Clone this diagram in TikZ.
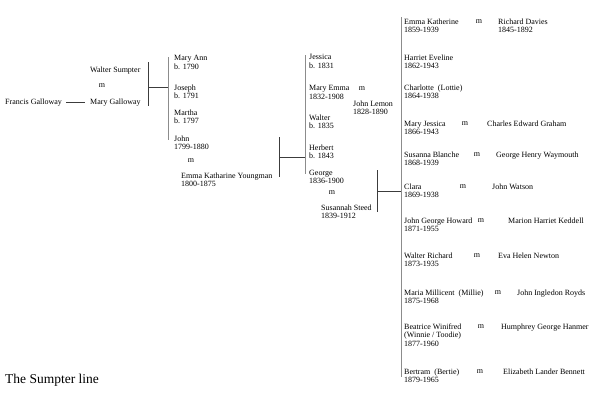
\documentclass[tikz,border=0pt]{standalone}
\usepackage{fontspec}
\setmainfont{Liberation Serif}
\usetikzlibrary{positioning}
\definecolor{bargrey}{RGB}{140,140,140}
\definecolor{linkdark}{RGB}{60,60,60}

\begin{document}
\begin{tikzpicture}[x=1pt, y=-1pt,
    person/.style={anchor=north west, inner sep=0pt, align=left, font=\fontsize{8}{8.6}\selectfont},
    wed/.style={inner sep=0pt, font=\fontsize{8}{8.6}\selectfont},
    kinbar/.style={draw=bargrey, line width=1pt},
    link/.style={draw=linkdark, line width=0.7pt}]
  \useasboundingbox (0,0) rectangle (600,418);
  % first generation
  \node[person] (francis) at (5,98.5) {Francis Galloway};
  \node[person] (walter) at (90,66.5) {Walter Sumpter};
  \node[wed] (m1) at (102,86) {m};
  \node[person] (marygal) at (90,98.5) {Mary Galloway};
  \draw[link] ([xshift=4pt]francis.east) -- ([xshift=-5pt]marygal.west);
  \coordinate (c1t) at (148,62);
  \coordinate (c1b) at (148,106);
  \coordinate (c1m) at (148,87);
  \coordinate (k1t) at (168,57);
  \coordinate (k1b) at (168,140);
  \coordinate (k1m) at (168,87);
  \draw[link] (c1t) -- (c1b);
  \draw[link] (c1m) -- (k1m);
  \draw[kinbar] (k1t) -- (k1b);
  % children of Walter and Mary
  \node[person] (maryann) at (174,55.5) {Mary Ann\\b. 1790};
  \node[person] (joseph) at (174,84.5) {Joseph\\b. 1791};
  \node[person] (martha) at (174,109.5) {Martha\\b. 1797};
  \node[person] (john) at (174,135.5) {John\\1799-1880};
  \node[wed] (m2) at (191,161) {m};
  \node[person] (emmay) at (181,172.5) {Emma Katharine Youngman\\1800-1875};
  \coordinate (c2t) at (279,137);
  \coordinate (c2b) at (279,177);
  \coordinate (c2m) at (279,157);
  \coordinate (k2t) at (305,55);
  \coordinate (k2b) at (305,174);
  \coordinate (k2m) at (305,157);
  \draw[link] (c2t) -- (c2b);
  \draw[link] (c2m) -- (k2m);
  \draw[kinbar] (k2t) -- (k2b);
  % children of John and Emma
  \node[person] (jessica) at (309,54.5) {Jessica\\b. 1831};
  \node[person] (maryemma) at (309,85.5) {Mary Emma\\1832-1908};
  \node[wed] (m3) at (362,89) {m};
  \node[person] (lemon) at (353,100.5) {John Lemon\\1828-1890};
  \node[person] (walterb) at (309,114.5) {Walter\\b. 1835};
  \node[person] (herbert) at (309,144.5) {Herbert\\b. 1843};
  \node[person] (george) at (309,169.5) {George\\1836-1900};
  \node[wed] (m4) at (332,193) {m};
  \node[person] (susannah) at (321,204.5) {Susannah Steed\\1839-1912};
  \coordinate (c3t) at (377,170);
  \coordinate (c3b) at (377,212);
  \coordinate (c3m) at (377,191);
  \coordinate (k3t) at (401,17);
  \coordinate (k3b) at (401,377);
  \coordinate (k3m) at (401,191);
  \draw[link] (c3t) -- (c3b);
  \draw[link] (c3m) -- (k3m);
  \draw[kinbar] (k3t) -- (k3b);
  % children of George and Susannah
  \node[person] (emmak) at (404,18.5) {Emma Katherine\\1859-1939};
  \node[wed] (m5) at (479,22) {m};
  \node[person] (davies) at (498,18.5) {Richard Davies\\1845-1892};
  \node[person] (harriet) at (404,54.5) {Harriet Eveline\\1862-1943};
  \node[person] (charlotte) at (404,84.5) {Charlotte~~(Lottie)\\1864-1938};
  \node[person] (maryj) at (404,120.5) {Mary Jessica\\1866-1943};
  \node[wed] (m6) at (465,124) {m};
  \node[person] (graham) at (487,120.5) {Charles Edward Graham};
  \node[person] (susanna) at (404,151.5) {Susanna Blanche\\1868-1939};
  \node[wed] (m7) at (477,155) {m};
  \node[person] (waymouth) at (496,151.5) {George Henry Waymouth};
  \node[person] (clara) at (404,183.5) {Clara\\1869-1938};
  \node[wed] (m8) at (463,187) {m};
  \node[person] (watson) at (492,183.5) {John Watson};
  \node[person] (jgh) at (404,217.5) {John George Howard\\1871-1955};
  \node[wed] (m9) at (481,221) {m};
  \node[person] (keddell) at (508,217.5) {Marion Harriet Keddell};
  \node[person] (walterr) at (404,252.5) {Walter Richard\\1873-1935};
  \node[wed] (m10) at (477,256) {m};
  \node[person] (newton) at (498,252.5) {Eva Helen Newton};
  \node[person] (maria) at (404,289.5) {Maria Millicent~~(Millie)\\1875-1968};
  \node[wed] (m11) at (498,293) {m};
  \node[person] (royds) at (517,289.5) {John Ingledon Royds};
  \node[person] (beatrice) at (404,323.5) {Beatrice Winifred\\(Winnie / Toodie)\\1877-1960};
  \node[wed] (m12) at (481,327) {m};
  \node[person] (hanmer) at (501,323.5) {Humphrey George Hanmer};
  \node[person] (bertram) at (404,368.5) {Bertram~~(Bertie)\\1879-1965};
  \node[wed] (m13) at (480,372) {m};
  \node[person] (bennett) at (503,368.5) {Elizabeth Lander Bennett};
  % title
  \node[anchor=west, inner sep=0pt, font=\fontsize{13.5}{15}\selectfont] (title) at (5,380) {The Sumpter line};
\end{tikzpicture}
\end{document}
